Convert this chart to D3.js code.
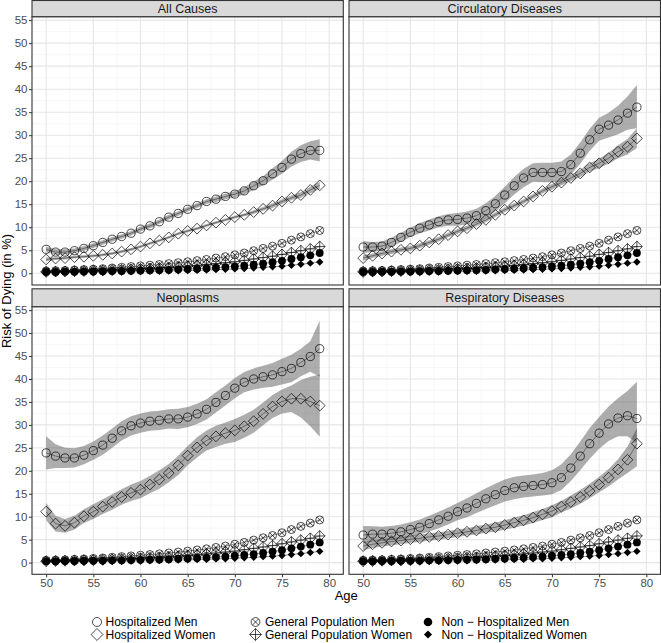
<!DOCTYPE html>
<html><head><meta charset="utf-8">
<script src="https://cdn.jsdelivr.net/npm/d3@7"></script>
<style>body{margin:0;background:#fff} svg{display:block;font-family:"Liberation Sans",Arial,sans-serif}</style>
</head><body><svg id="c" width="661" height="643"></svg>
<script>
// ---------- DATA ----------
const ages = [50,51,52,53,54,55,56,57,58,59,60,61,62,63,64,65,66,67,68,69,70,71,72,73,74,75,76,77,78,79];
const panelNames = ["All Causes","Circulatory Diseases","Neoplasms","Respiratory Diseases"];
const xTicks = [50,55,60,65,70,75,80];
const yTicks = [0,5,10,15,20,25,30,35,40,45,50,55];
const seriesNames = ["Hospitalized Men","Hospitalized Women","General Population Men","General Population Women","Non \u2212 Hospitalized Men","Non \u2212 Hospitalized Women"];

// All Causes
const allMen   = [5.2,4.6,4.6,4.9,5.4,6.0,6.7,7.4,8.0,8.7,9.6,10.3,11.2,12.2,13.0,13.9,14.7,15.6,16.1,16.7,17.2,17.9,19.0,20.1,21.6,23.0,24.8,26.0,26.7,26.7];
const allMenHi = [5.8,5.2,5.2,5.4,5.9,6.5,7.2,7.9,8.5,9.2,10.1,10.8,11.7,12.7,13.5,14.4,15.2,16.1,16.7,17.3,17.9,18.7,19.9,21.1,22.8,24.4,26.4,27.8,28.7,29.1];
const allMenLo = [4.6,4.0,4.1,4.4,4.9,5.5,6.2,6.9,7.5,8.2,9.1,9.8,10.7,11.7,12.5,13.4,14.2,15.1,15.5,16.1,16.5,17.1,18.1,19.1,20.4,21.6,23.2,24.2,24.7,24.3];
const allWomen   = [3.0,3.2,3.3,3.5,3.6,3.8,4.0,4.3,4.7,5.2,5.8,6.5,7.1,7.8,8.6,9.2,9.7,10.4,11.0,11.6,12.2,12.7,13.3,14.0,14.7,15.6,16.4,17.0,18.1,19.1];
const allWomenHi = [3.4,3.5,3.6,3.8,3.9,4.1,4.3,4.6,5.0,5.5,6.1,6.8,7.4,8.1,8.9,9.5,10.0,10.7,11.3,11.9,12.5,13.0,13.7,14.4,15.2,16.1,16.9,17.6,18.8,19.9];
const allWomenLo = [2.6,2.9,3.0,3.2,3.3,3.5,3.7,4.0,4.4,4.9,5.5,6.2,6.8,7.5,8.3,8.9,9.4,10.1,10.7,11.3,11.9,12.4,12.9,13.6,14.2,15.1,15.9,16.4,17.4,18.3];

// Circulatory Diseases
const circMen   = [5.7,5.7,5.9,6.7,7.8,8.9,9.8,10.5,11.2,11.6,11.7,12.0,12.5,13.6,15.1,17.0,19.0,20.7,21.9,21.9,21.9,22.1,23.6,26.1,29.0,31.3,32.2,33.3,34.8,36.1];
const circMenHi = [7.0,6.8,6.9,7.7,8.8,9.9,10.9,11.7,12.4,12.9,13.1,13.4,14.0,15.2,16.8,18.8,20.9,22.7,23.9,24.0,24.0,24.3,25.8,28.4,31.4,33.8,34.9,36.4,38.4,40.9];
const circMenLo = [4.4,4.6,4.9,5.7,6.8,7.9,8.7,9.3,10.0,10.3,10.3,10.6,11.0,12.0,13.4,15.2,17.1,18.7,19.9,19.8,19.8,19.9,21.4,23.8,26.6,28.8,29.5,30.2,31.2,31.5];
const circWomen   = [3.3,3.8,4.3,4.7,5.1,5.4,6.0,6.7,7.4,8.3,9.1,9.8,10.7,11.6,12.7,13.8,14.7,15.6,16.7,17.9,18.8,19.7,20.7,21.7,23.0,23.9,25.0,26.4,27.5,29.3];
const circWomenHi = [3.9,4.3,4.8,5.2,5.6,5.9,6.5,7.2,7.9,8.8,9.6,10.3,11.2,12.1,13.2,14.3,15.2,16.1,17.2,18.4,19.4,20.3,21.4,22.5,23.9,24.9,26.2,27.8,29.2,31.5];
const circWomenLo = [2.7,3.3,3.8,4.2,4.6,4.9,5.5,6.2,6.9,7.8,8.6,9.3,10.2,11.1,12.2,13.3,14.2,15.1,16.2,17.4,18.2,19.1,20.0,20.9,22.1,22.9,23.8,25.0,25.8,27.2];

// Neoplasms
const neoMen   = [23.9,23.2,22.8,22.8,23.4,24.4,25.6,27.1,28.7,29.8,30.4,30.8,31.0,31.3,31.3,31.7,32.4,33.4,34.9,36.4,38.0,39.3,40.0,40.5,40.9,41.6,42.3,43.6,44.9,46.6];
const neoMenHi = [27.5,25.8,25.0,24.9,25.4,26.4,27.7,29.2,30.8,31.9,32.5,32.9,33.1,33.4,33.5,33.9,34.6,35.6,37.1,38.6,40.2,41.5,42.3,42.9,43.5,44.4,45.3,46.6,48.2,52.7];
const neoMenLo = [20.3,20.6,20.6,20.7,21.4,22.4,23.5,25.0,26.6,27.7,28.3,28.7,28.9,29.2,29.1,29.5,30.2,31.2,32.7,34.2,35.8,37.1,37.7,38.1,38.3,38.8,39.3,40.6,41.6,40.5];
const neoWomen   = [11.1,8.5,8.0,8.7,10.1,11.1,12.2,13.2,14.3,15.2,15.9,17.0,18.1,19.5,21.2,23.3,25.1,26.6,27.5,28.2,28.8,29.7,30.8,32.4,34.0,35.1,35.7,35.7,35.1,34.2];
const neoWomenHi = [13.0,10.2,9.5,10.2,11.6,12.7,13.8,14.9,16.0,17.0,17.8,18.9,20.1,21.5,23.3,25.4,27.3,28.8,29.8,30.5,31.3,32.2,33.3,34.9,36.5,37.7,38.6,39.8,40.5,41.0];
const neoWomenLo = [9.2,6.8,6.5,7.2,8.6,9.5,10.6,11.5,12.6,13.4,14.0,15.1,16.1,17.5,19.1,21.2,22.9,24.4,25.2,25.9,26.3,27.2,28.3,29.9,31.5,32.5,32.8,31.6,29.7,27.4];

// Respiratory Diseases
const respMen   = [6.0,6.2,6.2,6.4,6.7,7.2,7.7,8.5,9.3,10.1,11.1,11.9,12.9,13.9,14.8,15.7,16.3,16.6,16.8,17.0,17.4,18.5,20.6,23.2,25.9,28.2,30.2,31.5,32.0,31.4];
const respMenHi = [8.0,7.9,7.8,8.0,8.3,8.8,9.4,10.2,11.1,12.0,13.0,14.0,15.1,16.2,17.2,18.1,18.7,19.0,19.2,19.5,20.1,21.4,23.6,26.4,29.3,31.7,34.0,35.8,37.4,39.4];
const respMenLo = [4.2,4.6,4.7,4.9,5.2,5.6,6.1,6.8,7.5,8.3,9.2,9.9,10.8,11.7,12.5,13.3,13.8,14.2,14.4,14.6,14.9,15.8,17.8,20.1,22.6,24.8,26.5,27.5,27.5,26.0];
const respWomen   = [3.6,4.0,4.3,4.6,4.8,5.1,5.3,5.6,5.8,6.1,6.4,6.7,7.0,7.4,7.7,8.2,8.7,9.2,9.8,10.5,11.2,12.2,13.2,14.3,15.6,17.0,18.5,20.3,22.4,25.9];
const respWomenHi = [4.5,4.8,5.1,5.4,5.6,5.9,6.1,6.4,6.6,6.9,7.2,7.5,7.9,8.3,8.7,9.2,9.8,10.3,11.0,11.7,12.5,13.5,14.6,15.8,17.2,18.7,20.4,22.5,25.3,29.3];
const respWomenLo = [2.7,3.2,3.5,3.8,4.0,4.3,4.5,4.8,5.0,5.3,5.6,5.9,6.1,6.5,6.7,7.2,7.6,8.1,8.6,9.3,9.9,10.9,11.8,12.8,14.0,15.3,16.6,18.1,19.5,21.0];

// Same in every panel
const genPopMen     = [0.5,0.55,0.6,0.7,0.8,0.9,1.0,1.15,1.3,1.45,1.6,1.75,1.9,2.1,2.3,2.5,2.75,3.0,3.3,3.6,4.0,4.4,4.9,5.4,5.9,6.5,7.2,7.9,8.6,9.3];
const genPopWomen   = [0.3,0.35,0.4,0.45,0.5,0.55,0.6,0.7,0.75,0.85,0.95,1.05,1.15,1.25,1.4,1.55,1.7,1.9,2.1,2.3,2.5,2.8,3.1,3.4,3.7,4.1,4.5,4.9,5.3,5.8];
const nonHospMen    = [0.3,0.3,0.35,0.35,0.4,0.4,0.45,0.5,0.5,0.55,0.6,0.65,0.7,0.75,0.85,0.9,1.0,1.1,1.2,1.35,1.5,1.65,1.85,2.1,2.4,2.7,3.1,3.5,3.9,4.4];
const nonHospWomen  = [0.15,0.15,0.2,0.2,0.2,0.25,0.25,0.3,0.3,0.35,0.35,0.4,0.45,0.5,0.55,0.6,0.65,0.7,0.8,0.85,0.95,1.05,1.15,1.3,1.4,1.55,1.75,1.95,2.2,2.45];

// ---------- LAYOUT ----------
const svg = d3.select("#c");
const cols = [[32, 343.3],[349, 660.5]];
const rows = [{strip:[0,16.7], panel:[16.7,285]},{strip:[288.3,306.7], panel:[306.7,574.3]}];
const xDomain = [48.5, 81.5], yDomain = [-2.55, 55.75];
const shapes = ["circle","diamond","circleX","diamondPlus","dot","smallDiamond"];

const panels = [
  {name:panelNames[0], c:0, r:0, hosp:[[allMen,allMenLo,allMenHi],[allWomen,allWomenLo,allWomenHi]]},
  {name:panelNames[1], c:1, r:0, hosp:[[circMen,circMenLo,circMenHi],[circWomen,circWomenLo,circWomenHi]]},
  {name:panelNames[2], c:0, r:1, hosp:[[neoMen,neoMenLo,neoMenHi],[neoWomen,neoWomenLo,neoWomenHi]]},
  {name:panelNames[3], c:1, r:1, hosp:[[respMen,respMenLo,respMenHi],[respWomen,respWomenLo,respWomenHi]]}
];

function drawShape(g, shape, scale){
  const s = scale || 1;
  const sw = 0.7;
  if(shape==="circle"){
    g.append("circle").attr("r",4.1*s).attr("fill","none").attr("stroke","#000").attr("stroke-width",sw);
  } else if(shape==="diamond"){
    const h=5.4*s;
    g.append("path").attr("d",`M0,${-h}L${h},0L0,${h}L${-h},0Z`).attr("fill","none").attr("stroke","#000").attr("stroke-width",sw);
  } else if(shape==="circleX"){
    const r=4.0*s, q=r*0.7071;
    g.append("circle").attr("r",r).attr("fill","none").attr("stroke","#000").attr("stroke-width",sw);
    g.append("path").attr("d",`M${-q},${-q}L${q},${q}M${-q},${q}L${q},${-q}`).attr("stroke","#000").attr("stroke-width",sw);
  } else if(shape==="diamondPlus"){
    const h=5.4*s;
    g.append("path").attr("d",`M0,${-h}L${h},0L0,${h}L${-h},0Z M0,${-h}L0,${h}M${-h},0L${h},0`).attr("fill","none").attr("stroke","#000").attr("stroke-width",sw);
  } else if(shape==="dot"){
    g.append("circle").attr("r",3.9*s).attr("fill","#000");
  } else if(shape==="smallDiamond"){
    const h=3.7*s;
    g.append("path").attr("d",`M0,${-h}L${h},0L0,${h}L${-h},0Z`).attr("fill","#000");
  }
}

panels.forEach(p=>{
  const [x0,x1] = cols[p.c];
  const R = rows[p.r];
  const x = d3.scaleLinear().domain(xDomain).range([x0,x1]);
  const y = d3.scaleLinear().domain(yDomain).range([R.panel[1],R.panel[0]]);
  const g = svg.append("g");
  g.append("rect").attr("x",x0).attr("y",R.panel[0]).attr("width",x1-x0).attr("height",R.panel[1]-R.panel[0]).attr("fill","#fff");
  const xMinor = xTicks.slice(0,-1).map(t=>t+2.5);
  const yMinor = yTicks.slice(0,-1).map(t=>t+2.5);
  g.selectAll(null).data(xMinor).join("line").attr("x1",d=>x(d)).attr("x2",d=>x(d)).attr("y1",R.panel[0]).attr("y2",R.panel[1]).attr("stroke","#f2f2f2").attr("stroke-width",0.6);
  g.selectAll(null).data(yMinor).join("line").attr("y1",d=>y(d)).attr("y2",d=>y(d)).attr("x1",x0).attr("x2",x1).attr("stroke","#f2f2f2").attr("stroke-width",0.6);
  g.selectAll(null).data(xTicks).join("line").attr("x1",d=>x(d)).attr("x2",d=>x(d)).attr("y1",R.panel[0]).attr("y2",R.panel[1]).attr("stroke","#e6e6e6").attr("stroke-width",1.1);
  g.selectAll(null).data(yTicks).join("line").attr("y1",d=>y(d)).attr("y2",d=>y(d)).attr("x1",x0).attr("x2",x1).attr("stroke","#e6e6e6").attr("stroke-width",1.1);

  p.hosp.forEach(([v,lo,hi])=>{
    const area = d3.area().x((d,i)=>x(ages[i])).y0((d,i)=>y(lo[i])).y1((d,i)=>y(hi[i]));
    g.append("path").datum(v).attr("d",area).attr("fill","#333333").attr("fill-opacity",0.4);
  });

  const series = [p.hosp[0][0], p.hosp[1][0], genPopMen, genPopWomen, nonHospMen, nonHospWomen];
  const line = d3.line().x((d,i)=>x(ages[i])).y(d=>y(d));
  series.forEach(v=>{
    g.append("path").datum(v).attr("d",line).attr("fill","none").attr("stroke","#222").attr("stroke-width",0.5);
  });
  series.forEach((v,si)=>{
    g.selectAll(null).data(v).join("g").attr("transform",(d,i)=>`translate(${x(ages[i])},${y(d)})`)
      .each(function(){ drawShape(d3.select(this), shapes[si]); });
  });

  g.append("rect").attr("x",x0).attr("y",R.panel[0]).attr("width",x1-x0).attr("height",R.panel[1]-R.panel[0]).attr("fill","none").attr("stroke","#333").attr("stroke-width",1.1);
  g.append("rect").attr("x",x0).attr("y",R.strip[0]+0.5).attr("width",x1-x0).attr("height",R.strip[1]-R.strip[0]-0.5).attr("fill","#d9d9d9").attr("stroke","#333").attr("stroke-width",1.1);
  g.append("text").attr("x",(x0+x1)/2).attr("y",(R.strip[0]+R.strip[1])/2+0.5).attr("text-anchor","middle").attr("dominant-baseline","central")
    .attr("font-size",12.5).attr("fill","#1a1a1a").text(p.name);

  if(p.c===0){
    const ax = g.append("g").attr("transform",`translate(${x0},0)`).call(d3.axisLeft(y).tickValues(yTicks).tickSize(3).tickPadding(1.5));
    ax.select(".domain").remove();
    ax.selectAll(".tick line").attr("stroke","#333");
    ax.selectAll(".tick text").attr("font-size",11.5).attr("fill","#4d4d4d").attr("font-family",'"Liberation Sans",Arial,sans-serif');
  }
  if(p.r===1){
    const ax = g.append("g").attr("transform",`translate(0,${R.panel[1]})`).call(d3.axisBottom(x).tickValues(xTicks).tickSize(3).tickPadding(1.5));
    ax.select(".domain").remove();
    ax.selectAll(".tick line").attr("stroke","#333");
    ax.selectAll(".tick text").attr("font-size",11.5).attr("fill","#4d4d4d").attr("font-family",'"Liberation Sans",Arial,sans-serif');
  }
});

// axis titles
svg.append("text").attr("x",(cols[0][0]+cols[1][1])/2).attr("y",600).attr("text-anchor","middle").attr("font-size",13).attr("fill","#000").text("Age");
svg.append("text").attr("transform",`translate(10.5,291) rotate(-90)`).attr("text-anchor","middle").attr("font-size",13).attr("fill","#000").text("Risk of Dying (in %)");

// legend
const legSym = [97, 255.5, 428];
const legTxt = [105.5, 265, 441.5];
const legRows = [622, 634.5];
const lg = svg.append("g");
seriesNames.forEach((name,i)=>{
  const c = Math.floor(i/2), cy = legRows[i%2];
  const it = lg.append("g").attr("transform",`translate(${legSym[c]},${cy})`);
  drawShape(it, shapes[i], 1.1);
  lg.append("text").attr("x",legTxt[c]).attr("y",cy).attr("dominant-baseline","central").attr("font-size",12).attr("fill","#000").text(name);
});
</script>
</body></html>
